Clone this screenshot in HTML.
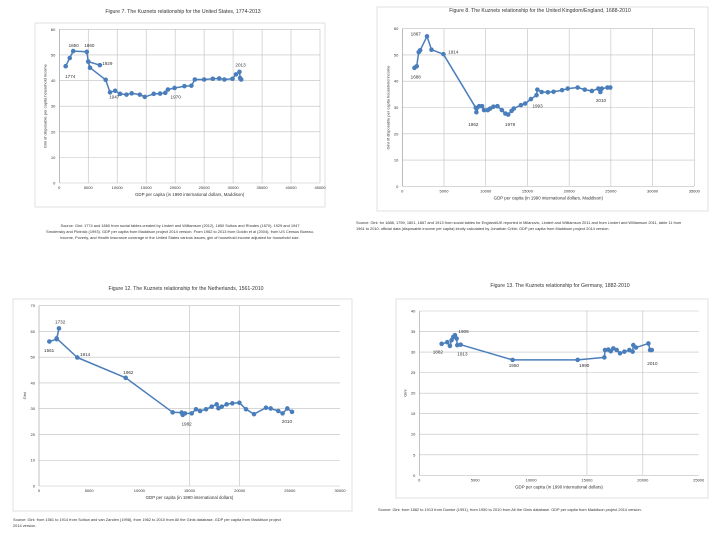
<!DOCTYPE html>
<html><head><meta charset="utf-8"><style>
html,body{margin:0;padding:0;background:#fff;width:720px;height:540px;overflow:hidden;font-family:"Liberation Sans",sans-serif}
svg text{font-family:"Liberation Sans",sans-serif;fill:#333}
</style></head><body>
<svg id="s" width="720" height="540" viewBox="0 0 720 540"></svg>
<script>
// US data
const usX=[1100,1800,2400,4750,5000,7000,5000,5300,8000,8750,9650,10500,11600,12500,13900,14750,16300,17400,18300,18750,19900,21600,22800,23400,25000,26500,27600,28500,29900,30500,31100,31200,31400];
const usY=[45.6,48.8,51.5,51.2,47.4,46,47.4,45,40.3,35.4,36,34.8,34.5,35,34.5,33.6,34.8,34.9,35.2,36.5,37.1,37.8,38,40.4,40.4,40.7,40.8,40.4,40.7,42.4,43.4,41,40.4];
const usLabels=["1774","1850","1860","1929","1947","1970","2013"];
const usLabelAt=[[1000,41],[1600,53],[4300,53],[7400,46],[8600,33],[19200,33],[30400,45.5]];
// UK data
const ukX=[1460,1730,1970,2140,2960,3500,4930,8810,8880,9220,9560,9800,10240,10540,10920,11400,11940,12350,12690,13100,13370,14220,14730,15410,16090,16190,16700,17450,18130,19150,19830,21020,21870,22720,23500,23740,23910,24590,24930];
const ukY=[45.1,45.7,51.1,51.8,57.1,52,50.3,29.9,28.2,30.5,30.5,29,29,29.6,30.3,30.5,29,27.7,27.3,28.7,29.6,30.9,31.5,33.2,34.7,36.8,35.9,35.8,36,36.6,37.2,37.6,36.8,36.3,37.2,35.9,37.2,37.6,37.6];
const ukLabels=["1688","1867","1914","1962","1978","1993","2010"];
const ukLabelAt=[[1000,41],[1000,57.5],[5500,50.5],[7900,23],[12300,23],[15600,30],[23200,32]];
// NL data
const nlX=[1030,1760,1990,1760,3820,8640,13320,14220,14320,14550,15220,15650,16050,16650,17210,17710,17880,18210,18700,19270,19970,20630,21430,22620,23090,23850,24280,24750,25220];
const nlY=[56.1,57,61.2,57.3,49.9,42,28.6,28.5,27.6,28.2,28.2,29.8,29.1,29.8,30.8,31.7,30.2,30.8,31.7,32.1,32.3,29.8,27.9,30.4,30.1,29.1,28.2,30.1,28.8];
const nlLabels=["1561","1732","1914","1962","1982","2010"];
const nlLabelAt=[[500,52],[1600,63],[4100,50.5],[8400,43.5],[14200,23.5],[24200,24.5]];
// DE data
const deX=[2000,2500,2740,2890,3040,3190,3340,3400,3700,8350,14170,16560,16620,16920,17130,17360,17660,17960,18350,18800,19090,19150,19390,20500,20650,20800];
const deY=[32,32.4,31.5,32.9,33.7,34.1,33.3,31.7,31.8,28.1,28.1,28.7,30.5,30.6,30.2,30.9,30.5,29.7,30.1,30.5,30.1,31.7,31.1,32.1,30.5,30.5];
const deLabels=["1882","1906","1913","1950","1990","2010"];
const deLabelAt=[[1200,29.6],[3500,34.6],[3400,29.2],[8000,26.4],[14300,26.4],[20400,26.8]];

const NS="http://www.w3.org/2000/svg";
const svg=document.getElementById('s');
function mk(tag,attrs,parent){const e=document.createElementNS(NS,tag);for(const k in attrs)e.setAttribute(k,attrs[k]);(parent||svg).appendChild(e);return e;}
function txt(x,y,s,size,anchor,parent,rot){const t=mk('text',{x:x,y:y,'font-size':size,'text-anchor':anchor||'start'},parent);if(rot)t.setAttribute('transform','rotate(-90 '+x+' '+y+')');t.textContent=s;return t;}

function chart(c){
  const g=mk('g',{});
  
  
  const fr=mk('rect',{x:c.frame[0],y:c.frame[1],width:c.frame[2],height:c.frame[3],fill:'#fff',stroke:'#d9d9d9','stroke-width':0.8},g);
  
  
  const t=txt(c.titleX,c.titleY,c.title,5.2,'middle',g);
  
  
  const sx=v=>c.x0+(v-c.xmin)/(c.xmax-c.xmin)*(c.x1-c.x0);
  const sy=v=>c.y0-(v-c.ymin)/(c.ymax-c.ymin)*(c.y0-c.y1);
  for(let v=c.ymin;v<=c.ymax+1e-9;v+=c.ystep){
    const l=mk('line',{x1:c.x0,x2:c.x1,y1:sy(v),y2:sy(v),stroke:'#bfbfbf','stroke-width':0.6},g);
    
    
    const tl=txt(c.x0-4,sy(v)+1.5,String(v),4,'end',g);
    
    
  }
  for(let v=c.xmin;v<=c.xmax+1e-9;v+=c.xstep){
    if(c.vgrid.indexOf(v)>=0||c.vgrid==='all'){
      const l=mk('line',{x1:sx(v),x2:sx(v),y1:c.y1,y2:c.y0,stroke:'#bfbfbf','stroke-width':0.6},g);
      
      
    }
    const tl=txt(sx(v),c.y0+6,String(v),4,'middle',g);
    
    
  }
  const ax=mk('line',{x1:c.x0,x2:c.x0,y1:c.y1,y2:c.y0,stroke:'#999','stroke-width':0.6},g);
  
  
  const xl=txt((c.x0+c.x1)/2,c.y0+13,c.xlabel,4.4,'middle',g);
  
  
  const yl=txt(c.x0-13,(c.y0+c.y1)/2,c.ylabel,4,'middle',g,true);
  
  
  let d='';
  c.xs.forEach((v,i)=>{d+=(i?'L':'M')+sx(v).toFixed(1)+' '+sy(c.ys[i]).toFixed(1);});
  const p=mk('path',{d:d,fill:'none',stroke:'#4a7ebb','stroke-width':1.5,'stroke-linejoin':'round'},g);
  
  
  c.xs.forEach((v,i)=>{
    const m=mk('circle',{cx:sx(v),cy:sy(c.ys[i]),r:2.3,fill:'#4a7ebb'},g);
    
    
  });
  c.labels.forEach((s,i)=>{
    const lt=txt(sx(c.labelAt[i][0]),sy(c.labelAt[i][1]),s,4.6,'start',g);
    
    
  });
  c.source.forEach((s,i)=>{
    const st=txt(c.srcX,c.srcY+i*6,s,3.9,c.srcAnchor||'start',g);
    
    
  });
}

chart({name:'us-chart',frame:[35,23,290,184],title:'Figure 7. The Kuznets relationship for the United States, 1774-2013',titleX:183,titleY:13,
 x0:59.3,x1:320,xmin:0,xmax:45000,xstep:5000,y0:183,y1:29.3,ymin:0,ymax:60,ystep:10,vgrid:'all',
 xlabel:'GDP per capita (in 1990 international dollars, Maddison)',ylabel:'Gini of disposable per capita household income',
 xs:usX,ys:usY,labels:usLabels,labelAt:usLabelAt,
 source:['Source: Gini: 1774 and 1860 from social tables created by Lindert and Williamson (2012), 1850 Soltow and Rhodes (1870), 1929 and 1947',
 'Smolensky and Plotnick (1993). GDP per capita from Maddison project 2014 version. From 1962 to 2013 from Goldin et al (2004), from US Census Bureau,',
 'income, Poverty, and Health Insurance coverage in the United States various issues; gini of household income adjusted for household size.'],srcX:180,srcY:227,srcAnchor:'middle'});

chart({name:'uk-chart',frame:[377,7,331,204],title:'Figure 8. The Kuznets relationship for the United Kingdom/England, 1688-2010',titleX:540,titleY:12,
 x0:402.3,x1:694.3,xmin:0,xmax:35000,xstep:5000,y0:186.3,y1:28.7,ymin:0,ymax:60,ystep:10,vgrid:'all',
 xlabel:'GDP per capita (in 1990 international dollars, Maddison)',ylabel:'Gini of disposable per capita household income',
 xs:ukX,ys:ukY,labels:ukLabels,labelAt:ukLabelAt,
 source:['Source: Gini: for 1688, 1759, 1801, 1867 and 1913 from social tables for England/UK reported in Milanovic, Lindert and Williamson 2011 and from Lindert and Williamson 2011, table 11 from',
 '1961 to 2010, official data (disposable income per capita) kindly calculated by Jonathan Cribb; GDP per capita from Maddison project 2014 version.'],srcX:356,srcY:224});

chart({name:'netherlands-chart',frame:[13,299,339,212],title:'Figure 12. The Kuznets relationship for the Netherlands, 1561-2010',titleX:186,titleY:290,
 x0:39,x1:340,xmin:0,xmax:30000,xstep:5000,y0:486,y1:305.7,ymin:0,ymax:70,ystep:10,vgrid:[15000,20000],
 xlabel:'GDP per capita (in 1990 international dollars)',ylabel:'Gini',
 xs:nlX,ys:nlY,labels:nlLabels,labelAt:nlLabelAt,
 source:['Source: Gini: from 1561 to 1914 from Soltow and van Zanden (1998), from 1962 to 2010 from All the Ginis database. GDP per capita from Maddison project',
 '2014 version.'],srcX:13,srcY:521});

chart({name:'germany-chart',frame:[396,299,312,199],title:'Figure 13. The Kuznets relationship for Germany, 1882-2010',titleX:560,titleY:287,
 x0:419.3,x1:698.7,xmin:0,xmax:25000,xstep:5000,y0:475.3,y1:311,ymin:0,ymax:40,ystep:5,vgrid:[15000,20000],
 xlabel:'GDP per capita (in 1990 international dollars)',ylabel:'Gini',
 xs:deX,ys:deY,labels:deLabels,labelAt:deLabelAt,
 source:['Source: Gini: from 1882 to 1913 from Dumke (1991), from 1950 to 2010 from All the Ginis database. GDP per capita from Maddison project 2014 version.'],srcX:378,srcY:511});
</script>
</body></html>
